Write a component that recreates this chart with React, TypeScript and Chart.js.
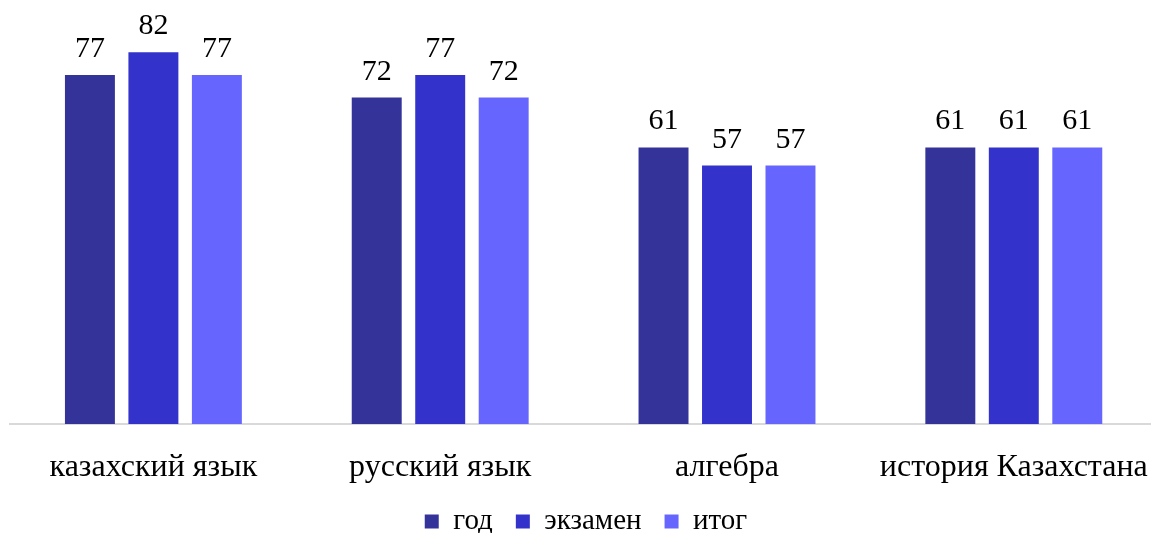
import React, { useEffect, useRef } from "react";
import { Chart, registerables } from "chart.js";

Chart.register(...registerables);

const categories = ["казахский язык", "русский язык", "алгебра", "история Казахстана"];
const seriesNames = ["год", "экзамен", "итог"];
const godValues = [77, 72, 61, 61];
const examValues = [82, 77, 57, 61];
const itogValues = [77, 72, 57, 61];
const seriesColors = ["#333399", "#3333CC", "#6666FF"];

const FONT = "'Liberation Serif', 'Times New Roman', serif";

const valueLabels = {
  id: "valueLabels",
  afterDatasetsDraw(chart: any) {
    const ctx = chart.ctx;
    ctx.save();
    ctx.font = `30px ${FONT}`;
    ctx.fillStyle = "#000000";
    ctx.textAlign = "center";
    ctx.textBaseline = "alphabetic";
    chart.data.datasets.forEach((ds: any, i: number) => {
      const meta = chart.getDatasetMeta(i);
      meta.data.forEach((el: any, j: number) => {
        ctx.fillText(String(ds.data[j]), el.x, el.y - 18);
      });
    });
    ctx.restore();
  },
};

export default function App() {
  const ref = useRef<HTMLCanvasElement | null>(null);

  useEffect(() => {
    document.body.style.margin = "0";
    document.body.style.overflow = "hidden";
    const canvas = ref.current;
    if (!canvas) return;
    const values = [godValues, examValues, itogValues];
    const chart = new Chart(canvas, {
      type: "bar",
      data: {
        labels: categories,
        datasets: seriesNames.map((name, i) => ({
          label: name,
          data: values[i],
          backgroundColor: seriesColors[i],
          borderWidth: 0,
          categoryPercentage: 0.664,
          barPercentage: 0.787,
        })),
      },
      options: {
        animation: false,
        responsive: false,
        maintainAspectRatio: false,
        layout: { padding: { left: 10, right: 2, top: 16, bottom: -13 } },
        plugins: {
          legend: {
            position: "bottom",
            labels: {
              font: { family: FONT, size: 29 },
              color: "#000000",
              boxWidth: 14,
              boxHeight: 14,
              padding: 23,
            },
          },
          tooltip: { enabled: false },
        },
        scales: {
          x: {
            grid: { display: false },
            border: { color: "#d9d9d9", width: 2 },
            ticks: {
              font: { family: FONT, size: 32 },
              color: "#000000",
              padding: 16,
              maxRotation: 0,
            },
            afterFit(scale: any) {
              scale.height = 60;
            },
          },
          y: {
            display: false,
            min: 0,
            max: 90,
          },
        },
      },
      plugins: [valueLabels],
    });
    return () => chart.destroy();
  }, []);

  return (
    <div style={{ position: "absolute", left: 0, top: 0, width: 1151, height: 533, overflow: "hidden", background: "#fff" }}>
      <canvas ref={ref} width={1164} height={533} style={{ display: "block", width: 1164, height: 533 }} />
    </div>
  );
}
